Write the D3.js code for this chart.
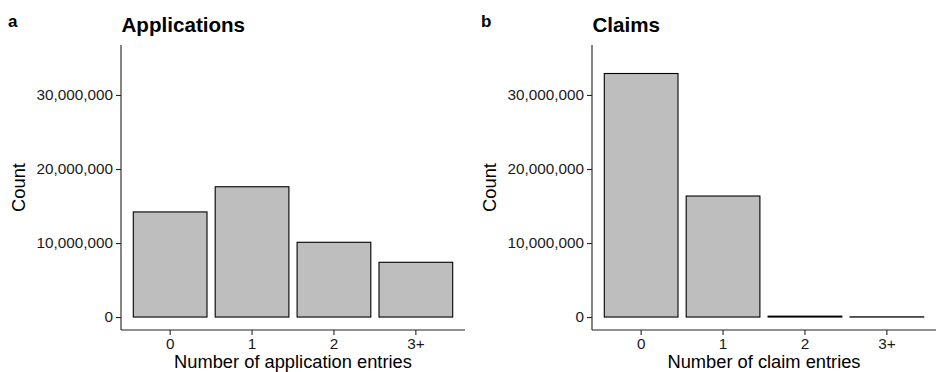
<!DOCTYPE html>
<html>
<head>
<meta charset="utf-8">
<script src="https://cdn.jsdelivr.net/npm/d3@7"></script>
<style>
  html, body { margin: 0; padding: 0; background: #fff; }
  svg { display: block; font-family: "Liberation Sans", Arial, Helvetica, sans-serif; }
</style>
</head>
<body>
<svg id="chart" width="937" height="372"></svg>
<script>
// Entry-count categories shared by both panels
const categories = ["0", "1", "2", "3+"];

// Counts per category
const applicationCounts = [14200000, 17600000, 10100000, 7400000];
const claimCounts = [32900000, 16350000, 120000, 25000];

// Y ticks
const yTicks = [0, 10000000, 20000000, 30000000];
const yLimit = 35000000;

const panels = [
  { letter: "a", title: "Applications", xTitle: "Number of application entries", values: applicationCounts, left: 121, right: 465, letterX: 8 },
  { letter: "b", title: "Claims", xTitle: "Number of claim entries", values: claimCounts, left: 592, right: 936, letterX: 481 }
];

const svg = d3.select("#chart");
const plotTop = 45, plotBottom = 330;
const fmt = d3.format(",");
const tickFont = 15.3;

panels.forEach(p => {
  const g = svg.append("g");

  // discrete x with 0.6-unit expansion on each side, bars at 90% width
  const x = d3.scaleBand()
    .domain(categories)
    .range([p.left, p.right])
    .paddingInner(0.1)
    .paddingOuter(0.15);

  // continuous y with 5% expansion
  const y = d3.scaleLinear()
    .domain([-0.05 * yLimit, 1.05 * yLimit])
    .range([plotBottom, plotTop]);

  // bars
  g.selectAll("rect.bar")
    .data(p.values)
    .join("rect")
    .attr("class", "bar")
    .attr("x", (d, i) => x(categories[i]))
    .attr("width", x.bandwidth())
    .attr("y", d => y(d))
    .attr("height", d => y(0) - y(d))
    .attr("fill", "#bebebe")
    .attr("stroke", "#000")
    .attr("stroke-width", 1.1);

  // y axis
  const yAxis = g.append("g")
    .attr("transform", `translate(${p.left},0)`)
    .call(d3.axisLeft(y).tickValues(yTicks).tickFormat(fmt).tickSize(5).tickPadding(3));
  yAxis.select(".domain").attr("d", `M0,${plotTop}V${plotBottom}`).attr("stroke", "#222").attr("stroke-width", 1.1);
  yAxis.selectAll(".tick line").attr("stroke", "#222").attr("stroke-width", 1.1);
  yAxis.selectAll(".tick text")
    .attr("font-size", tickFont).attr("fill", "#1a1a1a")
    .attr("font-family", "Liberation Sans, Arial, sans-serif");

  // x axis
  const xAxis = g.append("g")
    .attr("transform", `translate(0,${plotBottom})`)
    .call(d3.axisBottom(x).tickSize(5).tickPadding(3.5));
  xAxis.select(".domain").attr("d", `M${p.left},0H${p.right}`).attr("stroke", "#222").attr("stroke-width", 1.1);
  xAxis.selectAll(".tick line").attr("stroke", "#222").attr("stroke-width", 1.1);
  xAxis.selectAll(".tick text")
    .attr("font-size", tickFont).attr("fill", "#1a1a1a")
    .attr("font-family", "Liberation Sans, Arial, sans-serif");

  // axis titles
  g.append("text")
    .attr("x", (p.left + p.right) / 2)
    .attr("y", 367.5)
    .attr("text-anchor", "middle")
    .attr("font-size", 18.3)
    .text(p.xTitle);

  g.append("text")
    .attr("transform", `translate(${p.left - 96},${(plotTop + plotBottom) / 2}) rotate(-90)`)
    .attr("text-anchor", "middle")
    .attr("font-size", 18.3)
    .text("Count");

  // panel title and tag
  g.append("text")
    .attr("x", p.left + 0.5)
    .attr("y", 31.7)
    .attr("font-size", 20.6)
    .attr("font-weight", "bold")
    .text(p.title);

  g.append("text")
    .attr("x", p.letterX)
    .attr("y", 26.7)
    .attr("font-size", 17)
    .attr("font-weight", "bold")
    .text(p.letter);
});
</script>
</body>
</html>
